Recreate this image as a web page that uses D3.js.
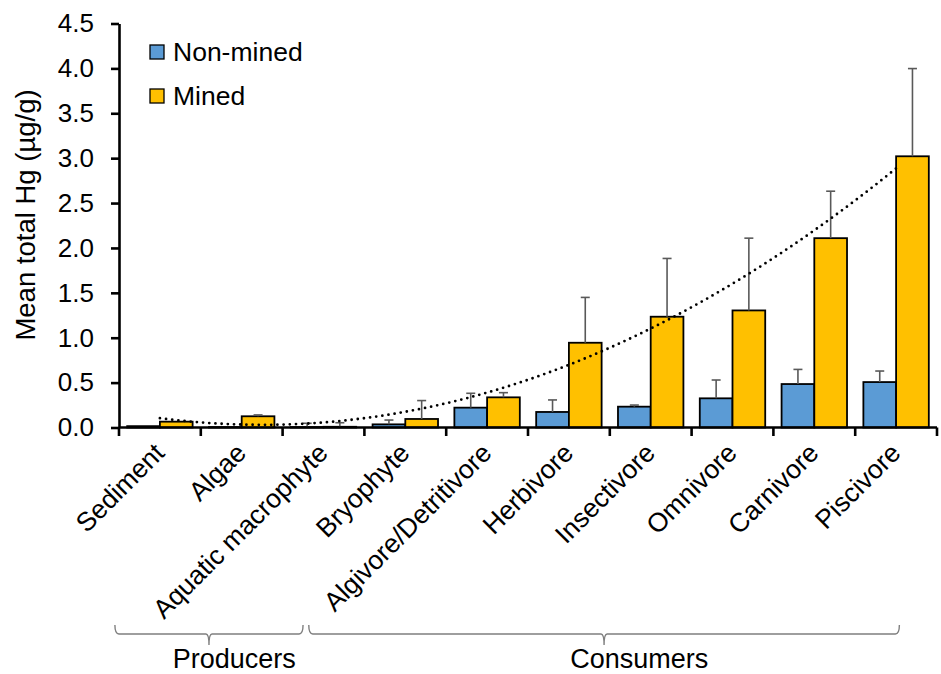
<!DOCTYPE html>
<html>
<head>
<meta charset="utf-8">
<script src="https://cdn.jsdelivr.net/npm/d3@7"></script>
<style>
  html, body { margin: 0; padding: 0; background: #ffffff; }
  svg { display: block; }
  text { font-family: "Liberation Sans", Arial, Helvetica, sans-serif; fill: #000; }
</style>
</head>
<body>
<svg id="chart" width="941" height="674"></svg>
<script>
// Feeding groups, from sediment up the food web
const categories = ["Sediment", "Algae", "Aquatic macrophyte", "Bryophyte", "Algivore/Detritivore",
                    "Herbivore", "Insectivore", "Omnivore", "Carnivore", "Piscivore"];
const seriesNames = ["Non-mined", "Mined"];

// Mean total Hg (µg/g) and the upper error extent for each group
const nonMined    = [0.015, 0.005, 0.005, 0.035, 0.221, 0.173, 0.232, 0.325, 0.484, 0.506];
const nonMinedErr = [0,     0,     0.042, 0.048, 0.160, 0.134, 0.018, 0.204, 0.163, 0.123];
const mined       = [0.065, 0.125, 0.008, 0.095, 0.336, 0.944, 1.234, 1.304, 2.109, 3.021];
const minedErr    = [0,     0.015, 0.045, 0.205, 0.052, 0.505, 0.649, 0.805, 0.523, 0.977];

const yTicks = [0, 0.5, 1, 1.5, 2, 2.5, 3, 3.5, 4, 4.5];

// Bracketed groupings under the category labels (in category units)
const groupNames = ["Producers", "Consumers"];
const groupSpans = [[-0.05, 2.25], [2.32, 9.54]];
const groupLabelAt = [1.41, 6.36];

const colors = { "Non-mined": "#5B9BD5", "Mined": "#FFC000" };

const svg = d3.select("#chart");
const plot = { left: 119, right: 937, top: 23.5, bottom: 427.5 };

const x = d3.scaleBand().domain(categories).range([plot.left, plot.right]).paddingInner(0).paddingOuter(0);
const xs = d3.scaleBand().domain(seriesNames).range([0, x.bandwidth()]).paddingInner(0).paddingOuter(0.25);
const y = d3.scaleLinear().domain([0, 4.5]).range([plot.bottom, plot.top]);
// continuous position in category units (0 = left edge of first category)
const xu = d3.scaleLinear().domain([0, categories.length]).range([plot.left, plot.right]);

const rows = categories.map((c, i) => ({
  cat: c,
  vals: [
    { s: "Non-mined", v: nonMined[i], e: nonMinedErr[i] },
    { s: "Mined",     v: mined[i],    e: minedErr[i] }
  ]
}));

// Bars
const groups = svg.append("g").selectAll("g").data(rows).join("g")
  .attr("transform", d => `translate(${x(d.cat)},0)`);

groups.selectAll("rect").data(d => d.vals).join("rect")
  .attr("x", d => xs(d.s))
  .attr("y", d => y(d.v))
  .attr("width", xs.bandwidth())
  .attr("height", d => y(0) - y(d.v))
  .attr("fill", d => colors[d.s])
  .attr("stroke", "#000")
  .attr("stroke-width", 1.8);

// Upper error bars
const errG = groups.selectAll("g.err").data(d => d.vals.filter(v => v.e > 0)).join("g")
  .attr("class", "err")
  .attr("stroke", "#595959")
  .attr("stroke-width", 1.6);
errG.append("line")
  .attr("x1", d => xs(d.s) + xs.bandwidth() / 2)
  .attr("x2", d => xs(d.s) + xs.bandwidth() / 2)
  .attr("y1", d => y(d.v))
  .attr("y2", d => y(d.v + d.e));
errG.append("line")
  .attr("x1", d => xs(d.s) + xs.bandwidth() / 2 - 4.5)
  .attr("x2", d => xs(d.s) + xs.bandwidth() / 2 + 4.5)
  .attr("y1", d => y(d.v + d.e))
  .attr("y2", d => y(d.v + d.e));

// Second-order polynomial trendline through the mined means (least squares, x = 1..n)
function polyFit2(ys) {
  let S = [0, 0, 0, 0, 0], T = [0, 0, 0];
  ys.forEach((v, i) => {
    const t = i + 1;
    for (let k = 0; k <= 4; k++) S[k] += Math.pow(t, k);
    for (let k = 0; k <= 2; k++) T[k] += v * Math.pow(t, k);
  });
  const A = [[S[0], S[1], S[2], T[0]], [S[1], S[2], S[3], T[1]], [S[2], S[3], S[4], T[2]]];
  for (let c = 0; c < 3; c++) {
    for (let r = c + 1; r < 3; r++) {
      const f = A[r][c] / A[c][c];
      for (let k = c; k < 4; k++) A[r][k] -= f * A[c][k];
    }
  }
  const coef = [0, 0, 0];
  for (let r = 2; r >= 0; r--) {
    let s = A[r][3];
    for (let k = r + 1; k < 3; k++) s -= A[r][k] * coef[k];
    coef[r] = s / A[r][r];
  }
  return t => coef[0] + coef[1] * t + coef[2] * t * t;
}
const trend = polyFit2(mined);
const trendPts = d3.range(1, categories.length + 0.001, 0.05).map(t => [xu(t - 0.5), y(trend(t))]);
svg.append("path")
  .attr("d", d3.line()(trendPts))
  .attr("fill", "none")
  .attr("stroke", "#000")
  .attr("stroke-width", 2.8)
  .attr("stroke-linecap", "round")
  .attr("stroke-dasharray", "0 6.2");

// Y axis
const yAxis = svg.append("g")
  .attr("transform", `translate(${plot.left},0)`)
  .call(d3.axisLeft(y).tickValues(yTicks).tickFormat(d3.format(".1f")).tickSize(8).tickSizeOuter(0).tickPadding(17));
yAxis.select(".domain").attr("stroke", "#000").attr("stroke-width", 2.6);
yAxis.selectAll(".tick line").attr("stroke", "#000").attr("stroke-width", 2.6);
yAxis.selectAll(".tick text").attr("font-size", 26).attr("font-family", "Liberation Sans, Arial, sans-serif").attr("fill", "#000");

// X axis: baseline with ticks at category boundaries
const xAxis = svg.append("g");
xAxis.append("line")
  .attr("x1", plot.left).attr("x2", plot.right)
  .attr("y1", y(0)).attr("y2", y(0))
  .attr("stroke", "#000").attr("stroke-width", 2.6);
xAxis.selectAll("line.tick").data(d3.range(categories.length + 1)).join("line")
  .attr("class", "tick")
  .attr("x1", d => xu(d)).attr("x2", d => xu(d))
  .attr("y1", y(0)).attr("y2", y(0) + 8.5)
  .attr("stroke", "#000").attr("stroke-width", 2.6);

// Rotated category labels
xAxis.selectAll("text").data(categories).join("text")
  .attr("transform", d => `translate(${x(d) + x.bandwidth() / 2 + 6},${y(0) + 27}) rotate(-45)`)
  .attr("text-anchor", "end")
  .attr("font-size", 26.5)
  .text(d => d);

// Y axis title
svg.append("text")
  .attr("transform", `translate(35,215) rotate(-90)`)
  .attr("text-anchor", "middle")
  .attr("font-size", 27.5)
  .text("Mean total Hg (µg/g)");

// Legend
const legend = svg.append("g").attr("transform", "translate(150,45)");
const li = legend.selectAll("g").data(seriesNames).join("g")
  .attr("transform", (d, i) => `translate(0,${i * 44})`);
li.append("rect")
  .attr("width", 14).attr("height", 14)
  .attr("fill", d => colors[d])
  .attr("stroke", "#000").attr("stroke-width", 1.3);
li.append("text")
  .attr("x", 23).attr("y", 15.5)
  .attr("font-size", 26.5)
  .text(d => d);

// Group brackets
const by = 634;
const brackets = svg.append("g").attr("fill", "none").attr("stroke", "#7f7f7f").attr("stroke-width", 1.4);
groupSpans.forEach((sp, i) => {
  const x0 = xu(sp[0]), x1 = xu(sp[1]), xm = (x0 + x1) / 2;
  const p = d3.path();
  p.moveTo(x0, by - 9);
  p.quadraticCurveTo(x0, by, x0 + 4, by);
  p.lineTo(xm - 3, by);
  p.quadraticCurveTo(xm, by, xm, by + 11);
  p.quadraticCurveTo(xm, by, xm + 3, by);
  p.lineTo(x1 - 4, by);
  p.quadraticCurveTo(x1, by, x1, by - 9);
  brackets.append("path").attr("d", p.toString());
  svg.append("text")
    .attr("x", xu(groupLabelAt[i]))
    .attr("y", 668)
    .attr("text-anchor", "middle")
    .attr("font-size", 27)
    .text(groupNames[i]);
});
</script>
</body>
</html>
